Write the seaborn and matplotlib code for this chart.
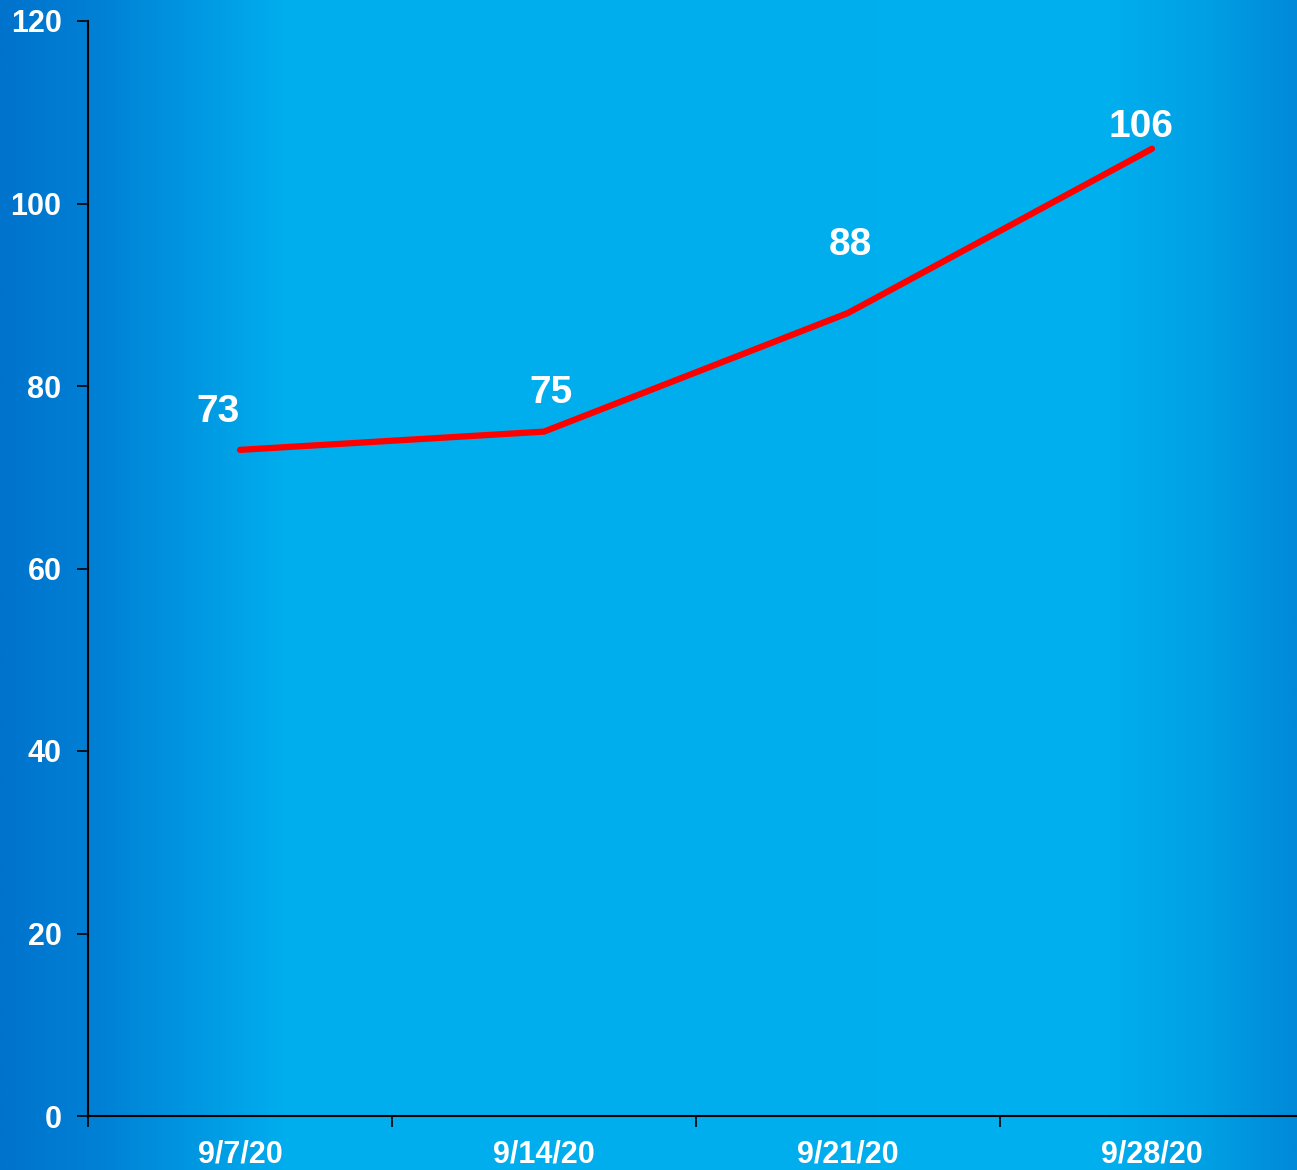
import numpy as np
import pandas as pd
import seaborn as sns
import matplotlib.pyplot as plt
from matplotlib.colors import LinearSegmentedColormap
from matplotlib.ticker import FixedLocator, MultipleLocator

# Data
weeks = ['9/7/20', '9/14/20', '9/21/20', '9/28/20']
counts = [73, 75, 88, 106]
# label offsets (points) relative to each point, as placed in the original
label_dx = [-16, 5, 2, -8]
label_dy = [14, 15, 36, 3]

df = pd.DataFrame({'week': weeks, 'count': counts})

sns.set_theme(style='ticks')
plt.rcParams['font.family'] = ['Liberation Sans', 'DejaVu Sans']

fig = plt.figure(figsize=(12.97, 11.7), dpi=100)

# Background gradient (left dark blue -> cyan -> darker blue at right)
bg = fig.add_axes([0, 0, 1, 1], zorder=0)
cmap = LinearSegmentedColormap.from_list('bg', [
    (0.00, '#0073cc'),
    (0.08, '#0082d6'),
    (0.22, '#00aeee'),
    (0.50, '#00aeee'),
    (0.85, '#00b0ef'),
    (0.93, '#00a0e4'),
    (1.00, '#008ad9'),
])
bg.imshow(np.linspace(0, 1, 512)[None, :], aspect='auto', cmap=cmap,
          extent=[0, 1, 0, 1])
bg.axis('off')

W, H = 1297, 1170
ax = fig.add_axes([88 / W, 1 - 1116 / H, (1304 - 88) / W, (1116 - 21) / H], zorder=1)
ax.patch.set_alpha(0)

sns.lineplot(data=df, x='week', y='count', ax=ax, color='#ff0000',
             linewidth=4.5, sort=False, solid_capstyle='round')

for i, (w, c) in enumerate(zip(weeks, counts)):
    ax.annotate(str(c), (i, c), xytext=(label_dx[i], label_dy[i]),
                textcoords='offset points', ha='center', va='bottom',
                color='white', fontsize=28, fontweight='bold')

ax.set_xlim(-0.5, len(weeks) - 0.5)
ax.set_ylim(0, 120)
ax.yaxis.set_major_locator(MultipleLocator(20))
ax.set_xticks(range(len(weeks)))
ax.set_xticklabels(weeks)
ax.xaxis.set_minor_locator(FixedLocator(np.arange(-0.5, len(weeks), 1.0)))
ax.tick_params(axis='x', which='major', length=0, pad=17)
ax.tick_params(axis='x', which='minor', length=8, width=1.2, color='black', direction='out')
ax.tick_params(axis='y', length=8, width=1.2, color='black', pad=11)
for lab in ax.get_xticklabels() + ax.get_yticklabels():
    lab.set_color('white')
    lab.set_fontsize(22)
    lab.set_fontweight('bold')

ax.set_xlabel('')
ax.set_ylabel('')
ax.grid(False)
for side in ['top', 'right']:
    ax.spines[side].set_visible(False)
for side in ['left', 'bottom']:
    ax.spines[side].set_color('black')
    ax.spines[side].set_linewidth(1.5)

fig.savefig('out.png', dpi=100)
